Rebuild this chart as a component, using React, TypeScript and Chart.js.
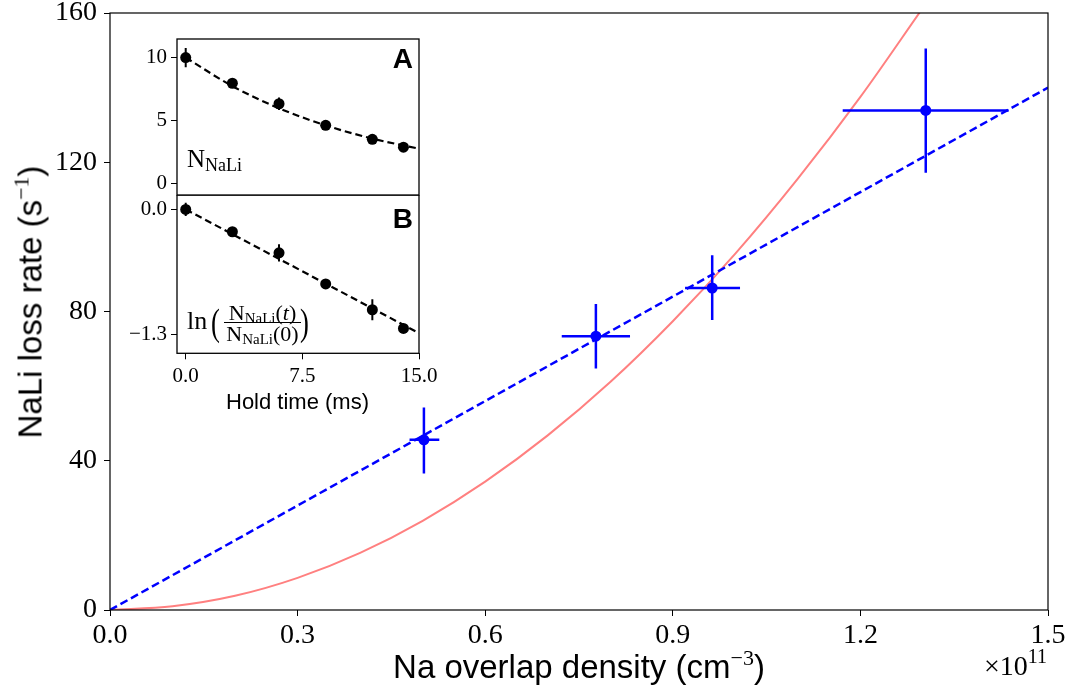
import React, { useEffect, useRef } from "react";
import { Chart, registerables } from "chart.js";

Chart.register(...registerables);

const SERIF = "'Liberation Serif', 'DejaVu Serif', serif";
const SANS = "'Liberation Sans', Arial, sans-serif";
const BLUE = "#0000ff";
const RED = "#ff8080";

// ---------- main panel: NaLi loss rate vs Na overlap density (x in 1e11 cm^-3) ----------
const xTickValues = [0, 0.3, 0.6, 0.9, 1.2, 1.5];
const yTickValues = [0, 40, 80, 120, 160];

const densityX = [0.502, 0.777, 0.963, 1.3045];
const lossRate = [45.6, 73.4, 86.3, 133.9];
const densityLow = [0.479, 0.7224, 0.9196, 1.1717];
const densityHigh = [0.5266, 0.8316, 1.0075, 1.437];
const rateLow = [36.6, 64.7, 77.7, 117.2];
const rateHigh = [54.3, 82.0, 95.1, 150.5];

const linearFitX = [0, 1.5];
const linearFitY = [0, 140];

const quadFitX = [0, 0.1, 0.2, 0.3, 0.4, 0.5, 0.6, 0.7, 0.8, 0.9, 1.0, 1.1, 1.2, 1.3];
const quadFitY = [0, 1, 3.8, 8.6, 15.3, 23.9, 34.4, 46.8, 61.1, 77.4, 95.5, 115.6, 137.5, 161.4];

// ---------- inset: hold time (ms) ----------
const holdTimeTicks = [0, 7.5, 15];
const holdTime = [0, 3, 6, 9, 12, 14];

// panel A: N_NaLi
const panelATicks = [0, 5, 10];
const nNaLi = [10.0, 7.96, 6.33, 4.61, 3.5, 2.87];
const nNaLiErr = [0.77, 0.22, 0.5, 0.22, 0.22, 0.22];
const fitATime = [0, 3, 6, 9, 12, 15];
const fitAValue = [10.0, 7.73, 5.97, 4.61, 3.56, 2.75];

// panel B: ln(N(t)/N(0))
const panelBTicks = [0, -1.3];
const lnRatio = [0, -0.233, -0.453, -0.777, -1.046, -1.241];
const lnRatioErr = [0.07, 0.03, 0.09, 0.03, 0.11, 0.03];
const fitBTime = [0, 15];
const fitBValue = [0, -1.29];

const errorBarPlugin = {
  id: "errorBarsCustom",
  beforeDatasetDraw(chart: any, args: any) {
    const ds: any = chart.data.datasets[args.index];
    const eb = ds.errorBars;
    if (!eb) return;
    const { ctx, chartArea, scales } = chart;
    const xs = scales[ds.xAxisID || "x"];
    const ys = scales[ds.yAxisID || "y"];
    ctx.save();
    ctx.beginPath();
    ctx.rect(chartArea.left, chartArea.top, chartArea.right - chartArea.left, chartArea.bottom - chartArea.top);
    ctx.clip();
    ctx.strokeStyle = eb.color;
    ctx.lineWidth = eb.width;
    ctx.beginPath();
    ds.data.forEach((p: any, i: number) => {
      const px = xs.getPixelForValue(p.x);
      const py = ys.getPixelForValue(p.y);
      if (eb.yLow) {
        ctx.moveTo(px, ys.getPixelForValue(eb.yLow[i]));
        ctx.lineTo(px, ys.getPixelForValue(eb.yHigh[i]));
      }
      if (eb.xLow) {
        ctx.moveTo(xs.getPixelForValue(eb.xLow[i]), py);
        ctx.lineTo(xs.getPixelForValue(eb.xHigh[i]), py);
      }
    });
    ctx.stroke();
    ctx.restore();
  },
};

const framePlugin = {
  id: "frameCustom",
  afterDatasetsDraw(chart: any, _args: any, opts: any) {
    const { ctx, chartArea } = chart;
    ctx.save();
    ctx.strokeStyle = "#000";
    ctx.lineWidth = opts.lineWidth || 1;
    ctx.strokeRect(chartArea.left, chartArea.top, chartArea.right - chartArea.left, chartArea.bottom - chartArea.top);
    ctx.restore();
  },
};

const zeroPad = (s: any) => {
  s.paddingTop = 0;
  s.paddingBottom = 0;
  s.paddingLeft = 0;
  s.paddingRight = 0;
};

const tickGrid = (len: number) => ({
  display: true,
  drawOnChartArea: false,
  drawTicks: true,
  tickLength: len,
  color: "#000",
  lineWidth: 1,
});

const pts = (xs: number[], ys: number[]) => xs.map((x, i) => ({ x, y: ys[i] }));

const mainConfig = (): any => ({
  type: "scatter",
  data: {
    datasets: [
      {
        label: "measured",
        data: pts(densityX, lossRate),
        pointRadius: 5.5,
        pointBackgroundColor: BLUE,
        pointBorderWidth: 0,
        showLine: false,
        clip: 0,
        errorBars: { xLow: densityLow, xHigh: densityHigh, yLow: rateLow, yHigh: rateHigh, color: BLUE, width: 2.5 },
      },
      {
        label: "linear fit",
        data: pts(linearFitX, linearFitY),
        showLine: true,
        borderColor: BLUE,
        borderWidth: 2.5,
        borderDash: [8, 4],
        pointRadius: 0,
        clip: 0,
      },
      {
        label: "quadratic fit",
        data: pts(quadFitX, quadFitY),
        showLine: true,
        borderColor: RED,
        borderWidth: 2,
        pointRadius: 0,
        cubicInterpolationMode: "monotone",
        clip: 0,
      },
    ],
  },
  options: {
    responsive: false,
    animation: false,
    layout: { autoPadding: false, padding: { left: 0, top: 13, right: 25, bottom: 0 } },
    plugins: { legend: { display: false }, tooltip: { enabled: false }, frameCustom: { lineWidth: 1.2 } },
    scales: {
      x: {
        type: "linear",
        min: 0,
        max: 1.5,
        afterFit: (s: any) => { s.height = 88; zeroPad(s); },
        afterBuildTicks: (s: any) => { s.ticks = xTickValues.map((v) => ({ value: v })); },
        grid: tickGrid(6),
        border: { display: false },
        ticks: {
          font: { family: SERIF, size: 28 },
          color: "#000",
          padding: 3,
          maxRotation: 0,
          autoSkip: false,
          callback: (v: any) => Number(v).toFixed(1),
        },
      },
      y: {
        type: "linear",
        min: 0,
        max: 160,
        afterFit: (s: any) => { s.width = 110; zeroPad(s); },
        afterBuildTicks: (s: any) => { s.ticks = yTickValues.map((v) => ({ value: v })); },
        grid: tickGrid(6),
        border: { display: false },
        ticks: {
          font: { family: SERIF, size: 28 },
          color: "#000",
          padding: 7,
          autoSkip: false,
          callback: (v: any) => String(v),
        },
      },
    },
  },
  plugins: [errorBarPlugin, framePlugin],
});

const insetAConfig = (): any => ({
  type: "scatter",
  data: {
    datasets: [
      {
        label: "N_NaLi",
        data: pts(holdTime, nNaLi),
        pointRadius: 5.5,
        pointBackgroundColor: "#000",
        pointBorderWidth: 0,
        showLine: false,
        clip: 0,
        errorBars: { yLow: nNaLi.map((v, i) => v - nNaLiErr[i]), yHigh: nNaLi.map((v, i) => v + nNaLiErr[i]), color: "#000", width: 2 },
      },
      {
        label: "fit",
        data: pts(fitATime, fitAValue),
        showLine: true,
        borderColor: "#000",
        borderWidth: 2.2,
        borderDash: [7, 4],
        pointRadius: 0,
        cubicInterpolationMode: "monotone",
        clip: 0,
      },
    ],
  },
  options: {
    responsive: false,
    animation: false,
    layout: { autoPadding: false, padding: { left: 0, top: 19, right: 31, bottom: 5 } },
    plugins: { legend: { display: false }, tooltip: { enabled: false }, frameCustom: { lineWidth: 1.3 } },
    scales: {
      x: { type: "linear", min: -0.56, max: 15, display: false },
      y: {
        type: "linear",
        min: -0.93,
        max: 11.48,
        afterFit: (s: any) => { s.width = 77; zeroPad(s); },
        afterBuildTicks: (s: any) => { s.ticks = panelATicks.map((v) => ({ value: v })); },
        grid: tickGrid(6),
        border: { display: false },
        ticks: { font: { family: SERIF, size: 21 }, color: "#000", padding: 4, callback: (v: any) => String(v) },
      },
    },
  },
  plugins: [errorBarPlugin, framePlugin],
});

const insetBConfig = (): any => ({
  type: "scatter",
  data: {
    datasets: [
      {
        label: "ln ratio",
        data: pts(holdTime, lnRatio),
        pointRadius: 5.5,
        pointBackgroundColor: "#000",
        pointBorderWidth: 0,
        showLine: false,
        clip: 0,
        errorBars: { yLow: lnRatio.map((v, i) => v - lnRatioErr[i]), yHigh: lnRatio.map((v, i) => v + lnRatioErr[i]), color: "#000", width: 2 },
      },
      {
        label: "fit",
        data: pts(fitBTime, fitBValue),
        showLine: true,
        borderColor: "#000",
        borderWidth: 2.2,
        borderDash: [7, 4],
        pointRadius: 0,
        clip: 0,
      },
    ],
  },
  options: {
    responsive: false,
    animation: false,
    layout: { autoPadding: false, padding: { left: 0, top: 0, right: 31, bottom: 0 } },
    plugins: { legend: { display: false }, tooltip: { enabled: false }, frameCustom: { lineWidth: 1.3 } },
    scales: {
      x: {
        type: "linear",
        min: -0.56,
        max: 15,
        afterFit: (s: any) => { s.height = 76.7; zeroPad(s); },
        afterBuildTicks: (s: any) => { s.ticks = holdTimeTicks.map((v) => ({ value: v })); },
        grid: tickGrid(6),
        border: { display: false },
        ticks: {
          font: { family: SERIF, size: 21 },
          color: "#000",
          padding: 5,
          maxRotation: 0,
          autoSkip: false,
          callback: (v: any) => Number(v).toFixed(1),
        },
      },
      y: {
        type: "linear",
        min: -1.5,
        max: 0.15,
        afterFit: (s: any) => { s.width = 77; zeroPad(s); },
        afterBuildTicks: (s: any) => { s.ticks = panelBTicks.map((v) => ({ value: v })); },
        grid: tickGrid(6),
        border: { display: false },
        ticks: {
          font: { family: SERIF, size: 21 },
          color: "#000",
          padding: 4,
          callback: (v: any) => (Number(v) === 0 ? "0.0" : "\u2212" + Math.abs(Number(v)).toFixed(1)),
        },
      },
    },
  },
  plugins: [errorBarPlugin, framePlugin],
});

function ChartCanvas(props: { config: () => any; left: number; top: number; width: number; height: number }) {
  const ref = useRef<HTMLCanvasElement>(null);
  useEffect(() => {
    const chart = new Chart(ref.current as HTMLCanvasElement, props.config());
    return () => chart.destroy();
  }, []);
  return (
    <canvas
      ref={ref}
      width={props.width}
      height={props.height}
      style={{ position: "absolute", left: props.left, top: props.top, width: props.width, height: props.height }}
    />
  );
}

const abs = (s: React.CSSProperties): React.CSSProperties => ({
  position: "absolute",
  whiteSpace: "nowrap",
  lineHeight: 1,
  margin: 0,
  color: "#000",
  ...s,
});

export default function App() {
  return (
    <div style={{ position: "fixed", left: 0, top: 0, width: 1073, height: 698, background: "#fff", overflow: "hidden" }}>
      <ChartCanvas config={mainConfig} left={0} top={0} width={1073} height={698} />
      <ChartCanvas config={insetAConfig} left={100} top={20} width={350} height={180} />
      <ChartCanvas config={insetBConfig} left={100} top={195} width={350} height={235} />

      {/* main axis titles */}
      <div style={abs({ left: 29.5, top: 302, fontFamily: SANS, fontSize: 33, transform: "translate(-50%, -50%) rotate(-90deg)" })}>
        NaLi loss rate (s
        <span style={{ fontFamily: SERIF, fontSize: 22, position: "relative", top: -13 }}>{"\u22121"}</span>)
      </div>
      <div style={abs({ left: 579, top: 650, fontFamily: SANS, fontSize: 33, transform: "translateX(-50%)" })}>
        Na overlap density (cm
        <span style={{ fontFamily: SERIF, fontSize: 22, position: "relative", top: -13 }}>{"\u22123"}</span>)
      </div>
      <div style={abs({ right: 26, top: 652, fontFamily: SERIF, fontSize: 28 })}>
        {"\u00d710"}
        <span style={{ fontSize: 20, position: "relative", top: -12 }}>11</span>
      </div>

      {/* inset labels */}
      <div style={abs({ right: 660, top: 44.6, fontFamily: SANS, fontSize: 28, fontWeight: "bold" })}>A</div>
      <div style={abs({ right: 660, top: 205.3, fontFamily: SANS, fontSize: 28, fontWeight: "bold" })}>B</div>
      <div style={abs({ left: 297.5, top: 391.4, fontFamily: SANS, fontSize: 22, transform: "translateX(-50%)" })}>Hold time (ms)</div>

      <div style={abs({ left: 187, top: 145.8, fontFamily: SERIF, fontSize: 25 })}>
        N<span style={{ fontSize: 18, position: "relative", top: 4 }}>NaLi</span>
      </div>

      <div style={abs({ left: 187, top: 308, fontFamily: SERIF, fontSize: 26 })}>ln</div>
      <div style={abs({ left: 211, top: 303, fontFamily: SERIF, fontSize: 38, transform: "scaleX(0.7)", transformOrigin: "left center" })}>(</div>
      <div style={abs({ left: 262.5, top: 302.3, fontFamily: SERIF, fontSize: 22, transform: "translateX(-50%)" })}>
        N<span style={{ fontSize: 15, position: "relative", top: 3 }}>NaLi</span>(<i>t</i>)
      </div>
      <div style={abs({ left: 224, top: 322, width: 77, height: 1.3, background: "#000" })} />
      <div style={abs({ left: 262.5, top: 322.6, fontFamily: SERIF, fontSize: 22, transform: "translateX(-50%)" })}>
        N<span style={{ fontSize: 15, position: "relative", top: 3 }}>NaLi</span>(0)
      </div>
      <div style={abs({ left: 300, top: 303, fontFamily: SERIF, fontSize: 38, transform: "scaleX(0.7)", transformOrigin: "left center" })}>)</div>
    </div>
  );
}
